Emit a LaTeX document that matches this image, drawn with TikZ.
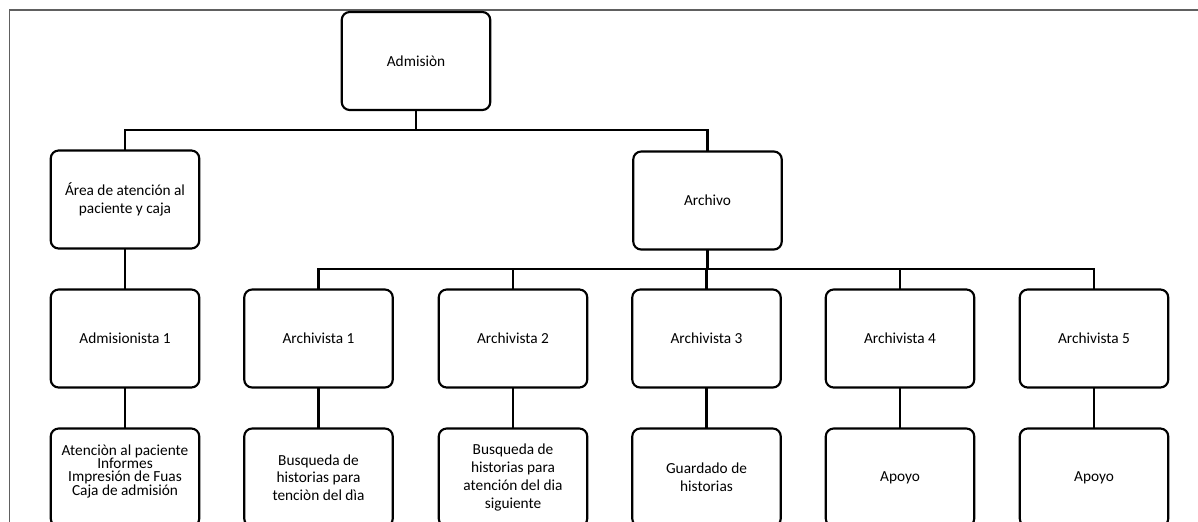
\documentclass[tikz,border=0pt]{standalone}
\usepackage{fontspec}
\setmainfont{Carlito}
\newcommand\tightlines{\fontsize{11.5}{10}\selectfont\lineskiplimit=-20pt\relax\lineskip=0pt\relax}
\begin{document}
\begin{tikzpicture}[x=0.75pt,y=-0.75pt,
  unit/.style={draw=black,line width=1.6pt,rounded corners=6pt,
    minimum width=148.5pt/1.333,minimum height=98pt/1.333,
    inner sep=2pt,align=center,font=\fontsize{11.5}{13.3}\selectfont},
  bare/.style={inner sep=0pt,align=center,font=\tightlines},
  link/.style={line width=1.6pt,line cap=rect}]
\useasboundingbox (0,0) rectangle (1198,521);
\clip (0,0) rectangle (1198,521);
% page frame (left and top edges)
\draw[gray!75!black,line width=1.2pt] (9.5,540) -- (9.5,10) -- (1210,10);

% top level
\node[unit] (adm) at (416,61) {Admisiòn};
% second level
\node[unit] (area) at (125,199.5) {Área de atención al\\paciente y caja};
\node[unit] (arch) at (707.5,200.5) {Archivo};
% third level
\node[unit] (ad1) at (125,338.5) {Admisionista 1};
\node[unit] (ar1) at (318.5,338.5) {Archivista 1};
\node[unit] (ar2) at (513,338.5) {Archivista 2};
\node[unit] (ar3) at (706.5,338.5) {Archivista 3};
\node[unit] (ar4) at (900,338.5) {Archivista 4};
\node[unit] (ar5) at (1094,338.5) {Archivista 5};
% task level
\node[unit] (t0) at (125,477.5) {};
\node[bare] (t0txt) at (125,471) {Atenciòn al paciente\\Informes\\Impresión de Fuas\\Caja de admisión};
\node[unit] (t1) at (318.5,477.5) {Busqueda de\\historias para\\tenciòn del dìa};
\node[unit] (t2) at (513,477.5) {Busqueda de\\historias para\\atención del dia\\siguiente};
\node[unit] (t3) at (706.5,477.5) {Guardado de\\historias};
\node[unit] (t4) at (900,477.5) {Apoyo};
\node[unit] (t5) at (1094,477.5) {Apoyo};

% connectors
\coordinate (b1) at (0,130);
\coordinate (b2) at (0,269);
\draw[link] (adm.south) -- (adm.south |- b1);
\draw[link] (area.north) -- (area.north |- b1) -- (arch.north |- b1) -- (arch.north);
\draw[link] (area.south) -- (ad1.north);
\draw[link] (arch.south) -- (arch.south |- b2);
\draw[link] (ar1.north) -- (ar1.north |- b2) -- (ar5.north |- b2) -- (ar5.north);
\foreach \n in {ar2,ar3,ar4} \draw[link] (\n.north) -- (\n.north |- b2);
\draw[link] (ad1.south) -- (t0.north);
\draw[link] (ar1.south) -- (t1.north);
\draw[link] (ar2.south) -- (t2.north);
\draw[link] (ar3.south) -- (t3.north);
\draw[link] (ar4.south) -- (t4.north);
\draw[link] (ar5.south) -- (t5.north);
\end{tikzpicture}
\end{document}
